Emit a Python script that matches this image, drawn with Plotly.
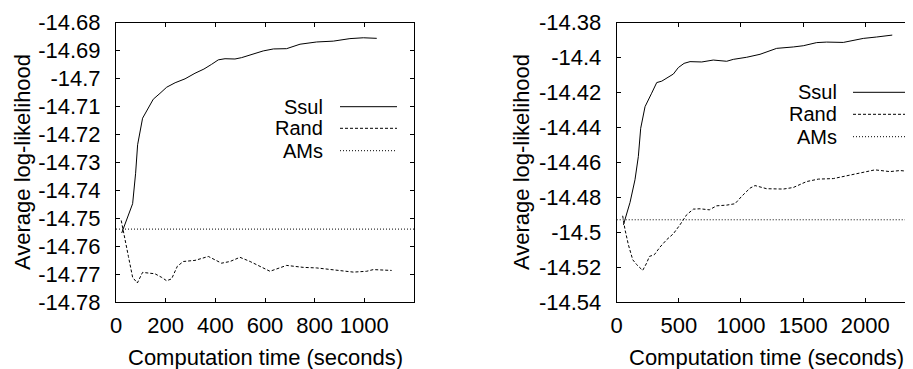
import plotly.graph_objects as go

# ---------------- data ----------------
# Left panel
left_ssul_x = [23, 67, 79, 87, 107, 130, 150, 177, 204, 238, 278, 318, 354, 385, 412, 439, 479, 506, 540, 593, 634, 687, 741, 808, 875, 942, 996, 1050]
left_ssul_y = [-14.7553, -14.7448, -14.7339, -14.7237, -14.7142, -14.7106, -14.7074, -14.7053, -14.7031, -14.7015, -14.7001, -14.6981, -14.6966, -14.6949, -14.6933, -14.6929, -14.6930, -14.6925, -14.6916, -14.6901, -14.6894, -14.6893, -14.6877, -14.6869, -14.6866, -14.6857, -14.6854, -14.6856]
left_rand_x = [21, 32, 50, 67, 86, 107, 130, 157, 184, 204, 224, 247, 271, 318, 372, 425, 459, 499, 540, 620, 687, 754, 808, 875, 956, 1009, 1036, 1110]
left_rand_y = [-14.7508, -14.7553, -14.7637, -14.7712, -14.7732, -14.7694, -14.7696, -14.7699, -14.7712, -14.7724, -14.7717, -14.7672, -14.7655, -14.7651, -14.7637, -14.7661, -14.7655, -14.7640, -14.7655, -14.7690, -14.7669, -14.7676, -14.7678, -14.7684, -14.7693, -14.7690, -14.7684, -14.7687]
left_ams_x = [0, 1200]
left_ams_y = [-14.7539, -14.7539]
left_xticks = [0, 200, 400, 600, 800, 1000]
left_yticks = [-14.68, -14.69, -14.70, -14.71, -14.72, -14.73, -14.74, -14.75, -14.76, -14.77, -14.78]
left_ytext = ["-14.68", "-14.69", "-14.7", "-14.71", "-14.72", "-14.73", "-14.74", "-14.75", "-14.76", "-14.77", "-14.78"]

# Right panel
right_ssul_x = [54, 107, 147, 174, 193, 228, 281, 322, 362, 402, 456, 496, 542, 590, 684, 777, 885, 938, 1046, 1153, 1287, 1421, 1501, 1609, 1689, 1823, 1903, 1984, 2091, 2217]
right_ssul_y = [-14.4958, -14.4830, -14.4700, -14.4567, -14.4405, -14.4281, -14.4204, -14.4143, -14.4135, -14.4117, -14.4094, -14.4057, -14.4033, -14.4023, -14.4025, -14.4014, -14.4021, -14.4010, -14.3998, -14.3981, -14.3947, -14.3939, -14.3932, -14.3914, -14.3911, -14.3913, -14.3901, -14.3890, -14.3882, -14.3871]
right_rand_x = [48, 67, 94, 129, 161, 209, 241, 263, 303, 349, 402, 456, 509, 563, 617, 670, 745, 804, 885, 952, 1005, 1072, 1113, 1206, 1340, 1421, 1528, 1622, 1743, 1850, 1957, 2078, 2198, 2279, 2373, 2400]
right_rand_y = [-14.4906, -14.4986, -14.5072, -14.5158, -14.5186, -14.5219, -14.5177, -14.5139, -14.5129, -14.5085, -14.5043, -14.5009, -14.4958, -14.4900, -14.4868, -14.4866, -14.4872, -14.4849, -14.4845, -14.4837, -14.4795, -14.4748, -14.4733, -14.4751, -14.4753, -14.4744, -14.4710, -14.4696, -14.4693, -14.4678, -14.4659, -14.4643, -14.4653, -14.4647, -14.4653, -14.4653]
right_ams_x = [0, 2400]
right_ams_y = [-14.4929, -14.4929]
right_xticks = [0, 500, 1000, 1500, 2000]
right_yticks = [-14.38, -14.40, -14.42, -14.44, -14.46, -14.48, -14.50, -14.52, -14.54]
right_ytext = ["-14.38", "-14.4", "-14.42", "-14.44", "-14.46", "-14.48", "-14.5", "-14.52", "-14.54"]

series_names = ["Ssul", "Rand", "AMs"]
series_dash = ["solid", "3px,2px", "1px,2px"]

# ---------------- layout helpers ----------------
W, H = 913, 369
OFF = 8  # page body margin offset (screen px -> figure px)
def px(x):
    return (x - OFF) / W
def py(y):
    return 1 - (y - OFF) / H

FONT = "Liberation Sans, Arial, Helvetica, sans-serif"
TICKFONT = dict(family=FONT, size=22, color="black")

fig = go.Figure()

panels = [
    ("x", "y", left_ssul_x, left_ssul_y, left_rand_x, left_rand_y, left_ams_x, left_ams_y),
    ("x2", "y2", right_ssul_x, right_ssul_y, right_rand_x, right_rand_y, right_ams_x, right_ams_y),
]
for xa, ya, sx, sy, rx, ry, ax, ay in panels:
    for name, dash, xs, ys in zip(series_names, series_dash, [sx, rx, ax], [sy, ry, ay]):
        fig.add_trace(go.Scatter(x=xs, y=ys, mode="lines", name=name, xaxis=xa, yaxis=ya,
                                 line=dict(color="black", width=1, dash=dash), showlegend=False,
                                 cliponaxis=True))

axis_common = dict(showgrid=False, zeroline=False, ticks="inside", ticklen=4, tickwidth=1,
                   tickcolor="black", linecolor="black", linewidth=1, tickfont=TICKFONT,
                   automargin=False)

fig.update_layout(
    width=W, height=H,
    margin=dict(l=0, r=0, t=0, b=0, pad=0, autoexpand=False),
    paper_bgcolor="white", plot_bgcolor="white",
    showlegend=False,
    xaxis=dict(domain=[px(116), px(414)], range=[0, 1200], anchor="y",
               tickmode="array", tickvals=left_xticks, ticktext=[str(v) for v in left_xticks],
               showline=True, mirror="ticks", ticklabelstandoff=4, **axis_common),
    yaxis=dict(domain=[py(302), py(22.7)], range=[-14.78, -14.68], anchor="x",
               tickmode="array", tickvals=left_yticks, ticktext=left_ytext,
               showline=True, mirror="ticks", ticklabelstandoff=10, **axis_common),
    xaxis2=dict(domain=[px(616.7), px(915)], range=[0, 2400], anchor="y2",
                tickmode="array", tickvals=right_xticks, ticktext=[str(v) for v in right_xticks],
                showline=True, mirror="ticks", ticklabelstandoff=4, **axis_common),
    yaxis2=dict(domain=[py(302), py(22.7)], range=[-14.54, -14.38], anchor="x2",
                tickmode="array", tickvals=right_yticks, ticktext=right_ytext,
                showline=True, mirror="ticks", ticklabelstandoff=10, **axis_common),
)

TITLEFONT = dict(family=FONT, size=22, color="black")
YTITLEFONT = dict(family=FONT, size=22, color="black")
LEGFONT = dict(family=FONT, size=20, color="black")
annotations = [
    dict(text="Computation time (seconds)", x=px(265), y=py(357), xref="paper", yref="paper",
         showarrow=False, xanchor="center", yanchor="middle", font=TITLEFONT),
    dict(text="Computation time (seconds)", x=px(766), y=py(357), xref="paper", yref="paper",
         showarrow=False, xanchor="center", yanchor="middle", font=TITLEFONT),
    dict(text="Average log-likelihood", x=px(22), y=py(162), xref="paper", yref="paper",
         showarrow=False, xanchor="center", yanchor="middle", textangle=-90, font=YTITLEFONT),
    dict(text="Average log-likelihood", x=px(521), y=py(162), xref="paper", yref="paper",
         showarrow=False, xanchor="center", yanchor="middle", textangle=-90, font=YTITLEFONT),
]
shapes = []
# legends (gnuplot style: text right-aligned, sample line to the right)
legend_specs = [
    (325, 340, 397, [106.7, 128.3, 150.7]),
    (839, 853, 911, [92.3, 114.3, 136.7]),
]
for tx, lx0, lx1, rows in legend_specs:
    for name, dash, ry in zip(series_names, series_dash, rows):
        annotations.append(dict(text=name, x=px(tx), y=py(ry), xref="paper", yref="paper",
                                showarrow=False, xanchor="right", yanchor="middle",
                                font=LEGFONT))
        shapes.append(dict(type="line", xref="paper", yref="paper", x0=px(lx0), x1=px(lx1),
                           y0=py(ry), y1=py(ry), line=dict(color="black", width=1, dash=dash)))

fig.update_layout(annotations=annotations, shapes=shapes)
fig.write_html("out.html")
